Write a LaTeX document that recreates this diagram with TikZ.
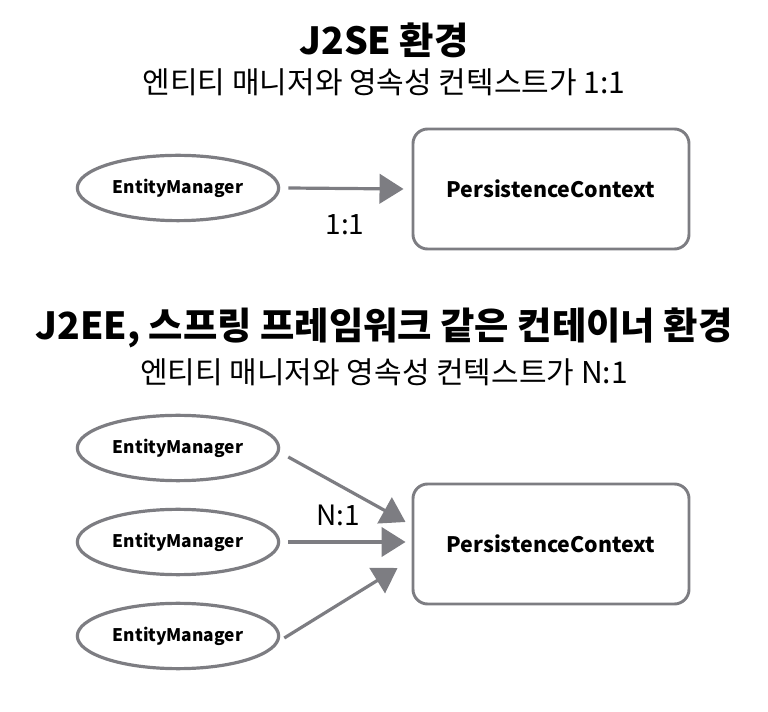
\documentclass[tikz,border=0pt]{standalone}
\usepackage{fontspec}
\setmainfont{Noto Sans CJK KR}
\usetikzlibrary{arrows.meta,positioning,shapes.geometric}

\definecolor{linegray}{RGB}{125,125,130}

\tikzset{
  title/.style={font=\bfseries\fontsize{28}{32}\selectfont},
  subtitle/.style={font=\fontsize{22.5}{26}\selectfont},
  em/.style={ellipse, draw=linegray, line width=2.4pt, minimum width=151pt,
    minimum height=49pt, inner sep=0pt, font=\bfseries\fontsize{13}{15}\selectfont},
  pc/.style={rectangle, rounded corners=11pt, draw=linegray, line width=2.2pt,
    minimum width=207pt, minimum height=90pt, font=\bfseries\fontsize{16}{19}\selectfont},
  conn/.style={draw=linegray, line width=2.4pt,
    -{Triangle[length=18pt,width=22pt]}},
  ratio/.style={font=\fontsize{21}{25}\selectfont}
}

\begin{document}
\begin{tikzpicture}[x=0.75pt, y=-0.75pt]

        \useasboundingbox (0,0) rectangle (768,712);

        % J2SE
        \node[title] (t1) at (384,40) {J2SE 환경};
        \node[subtitle] (s1) at (384,82) {엔티티 매니저와 영속성 컨텍스트가 1:1};

        \node[em] (em1) at (178,188) {EntityManager};
        \node[pc] (pc1) at (551,189) {PersistenceContext};
        \draw[conn] ([xshift=6pt]em1.east) -- ([xshift=-6pt]pc1.west);
        \node[ratio] (r1) at (345,225) {1:1};

        % J2EE / container
        \node[title] (t2) at (384,328) {J2EE, 스프링 프레임워크 같은 컨테이너 환경};
        \node[subtitle] (s2) at (384,372) {엔티티 매니저와 영속성 컨텍스트가 N:1};

        \node[em] (em2a) at (178,448) {EntityManager};
        \node[em] (em2b) at (178,542) {EntityManager};
        \node[em] (em2c) at (178,636) {EntityManager};
        \node[pc] (pc2) at (551,544) {PersistenceContext};

        \draw[conn] ([shift={(8,9)}]em2a.east) -- ([shift={(-6,-22)}]pc2.west);
        \draw[conn] ([xshift=6pt]em2b.east) -- ([shift={(-6,-2)}]pc2.west);
        \draw[conn] ([shift={(4,2)}]em2c.east) -- ([shift={(-14,24)}]pc2.west);
        \node[ratio] (r2) at (338,515) {N:1};

\end{tikzpicture}
\end{document}
